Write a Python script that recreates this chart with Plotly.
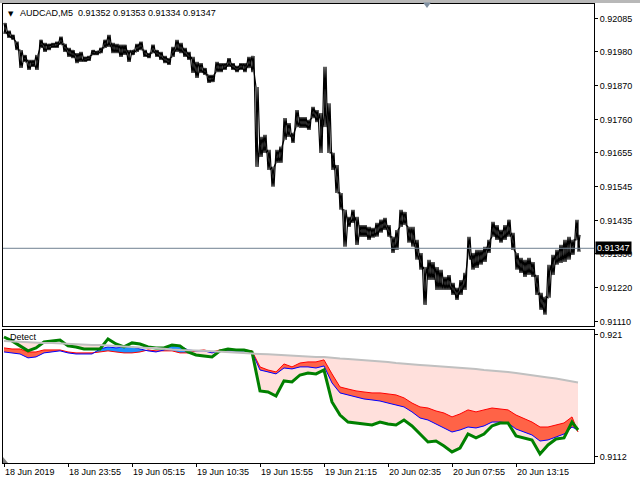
import plotly.graph_objects as go

# ---------------- main chart data (AUDCAD M5), sampled every 4 bars ----------------
price_bar = list(range(0, 573, 4)) + [574]
price_high = [
    0.92072, 0.92047, 0.92034, 0.92012, 0.91985, 0.91969, 0.91953, 0.91953, 0.91969, 0.92018,
    0.92008, 0.92005, 0.92008, 0.92012, 0.92028, 0.92005, 0.91992, 0.91985, 0.91975, 0.91979,
    0.91963, 0.91966, 0.91985, 0.91982, 0.91992, 0.92018, 0.92034, 0.92008, 0.92005, 0.92002,
    0.92002, 0.91985, 0.91985, 0.92005, 0.92012, 0.91985, 0.91975, 0.92002, 0.91985, 0.91979,
    0.91966, 0.91959, 0.91995, 0.92018, 0.92008, 0.91992, 0.91979, 0.91963, 0.91947, 0.91943,
    0.91927, 0.91905, 0.91905, 0.91947, 0.91943, 0.91943, 0.91959, 0.91943, 0.91934, 0.91943,
    0.91943, 0.91963, 0.91966, 0.91866, 0.91706, 0.91712, 0.91664, 0.91609, 0.91664, 0.91674,
    0.91766, 0.91750, 0.91718, 0.91792, 0.91769, 0.91769, 0.91760, 0.91802, 0.91792, 0.91782,
    0.91931, 0.91814, 0.91654, 0.91615, 0.91525, 0.91471, 0.91448, 0.91471, 0.91448, 0.91422,
    0.91422, 0.91416, 0.91413, 0.91429, 0.91439, 0.91445, 0.91422, 0.91384, 0.91406, 0.91471,
    0.91464, 0.91416, 0.91416, 0.91374, 0.91332, 0.91287, 0.91310, 0.91303, 0.91287, 0.91278,
    0.91255, 0.91261, 0.91236, 0.91220, 0.91245, 0.91268, 0.91384, 0.91332, 0.91342, 0.91342,
    0.91352, 0.91374, 0.91432, 0.91422, 0.91406, 0.91422, 0.91439, 0.91397, 0.91332, 0.91316,
    0.91310, 0.91316, 0.91303, 0.91261, 0.91204, 0.91191, 0.91294, 0.91326, 0.91342, 0.91358,
    0.91374, 0.91384, 0.91374, 0.91439, 0.91390,
]
price_low = [
    0.92037, 0.92024, 0.92018, 0.91985, 0.91927, 0.91947, 0.91921, 0.91931, 0.91921, 0.91992,
    0.91979, 0.91985, 0.91992, 0.91992, 0.92002, 0.91979, 0.91963, 0.91959, 0.91943, 0.91947,
    0.91947, 0.91950, 0.91969, 0.91969, 0.91975, 0.91992, 0.91995, 0.91975, 0.91975, 0.91963,
    0.91969, 0.91947, 0.91969, 0.91979, 0.91985, 0.91963, 0.91959, 0.91975, 0.91963, 0.91953,
    0.91943, 0.91937, 0.91963, 0.91979, 0.91975, 0.91963, 0.91953, 0.91911, 0.91895, 0.91911,
    0.91905, 0.91879, 0.91882, 0.91914, 0.91914, 0.91921, 0.91931, 0.91921, 0.91914, 0.91921,
    0.91914, 0.91927, 0.91914, 0.91609, 0.91641, 0.91654, 0.91599, 0.91545, 0.91622, 0.91622,
    0.91696, 0.91705, 0.91686, 0.91737, 0.91734, 0.91734, 0.91728, 0.91766, 0.91753, 0.91654,
    0.91737, 0.91654, 0.91599, 0.91525, 0.91471, 0.91352, 0.91416, 0.91429, 0.91358, 0.91384,
    0.91384, 0.91374, 0.91381, 0.91384, 0.91397, 0.91406, 0.91384, 0.91332, 0.91342, 0.91416,
    0.91422, 0.91365, 0.91352, 0.91310, 0.91278, 0.91165, 0.91245, 0.91245, 0.91213, 0.91213,
    0.91213, 0.91213, 0.91197, 0.91181, 0.91197, 0.91213, 0.91310, 0.91278, 0.91284, 0.91294,
    0.91303, 0.91332, 0.91384, 0.91374, 0.91365, 0.91374, 0.91384, 0.91342, 0.91278, 0.91268,
    0.91255, 0.91261, 0.91255, 0.91197, 0.91149, 0.91133, 0.91188, 0.91261, 0.91294, 0.91300,
    0.91303, 0.91310, 0.91326, 0.91374, 0.91336,
]
last_price = 0.91347
title_text = "AUDCAD,M5  0.91352 0.91353 0.91334 0.91347"

price_ticks = [0.92085, 0.91980, 0.91870, 0.91760, 0.91655, 0.91545, 0.91435, 0.91330, 0.91220, 0.91110]

time_tick_bar = [0, 64, 128, 192, 256, 320, 384, 448, 512]
time_tick_text = ["18 Jun 2019", "18 Jun 23:55", "19 Jun 05:15", "19 Jun 10:35", "19 Jun 15:55",
                  "19 Jun 21:15", "20 Jun 02:35", "20 Jun 07:55", "20 Jun 13:15"]

# ---------------- "Detect" indicator data, sampled every 8 bars ----------------
ind_bar = list(range(0, 569, 8)) + [574]
ind_gray = [
    0.92026, 0.92022, 0.92018, 0.92018, 0.92015, 0.92011, 0.92011, 0.92007, 0.92003, 0.92003,
    0.92000, 0.91996, 0.91996, 0.91992, 0.91989, 0.91985, 0.91981, 0.91978, 0.91974, 0.91974,
    0.91966, 0.91963, 0.91959, 0.91959, 0.91955, 0.91952, 0.91948, 0.91944, 0.91944, 0.91940,
    0.91937, 0.91933, 0.91929, 0.91926, 0.91922, 0.91922, 0.91914, 0.91914, 0.91911, 0.91907,
    0.91907, 0.91900, 0.91896, 0.91892, 0.91888, 0.91885, 0.91877, 0.91874, 0.91870, 0.91862,
    0.91859, 0.91855, 0.91848, 0.91844, 0.91840, 0.91836, 0.91833, 0.91825, 0.91822, 0.91818,
    0.91810, 0.91807, 0.91803, 0.91796, 0.91788, 0.91781, 0.91773, 0.91766, 0.91755, 0.91747,
    0.91736, 0.91725, 0.91718,
]
ind_red = [
    0.91974, 0.91966, 0.91966, 0.91944, 0.91944, 0.91959, 0.91959, 0.91959, 0.91944, 0.91937,
    0.91937, 0.91937, 0.91944, 0.91952, 0.91944, 0.91937, 0.91937, 0.91944, 0.91959, 0.91952,
    0.91952, 0.91952, 0.91937, 0.91937, 0.91952, 0.91959, 0.91944, 0.91959, 0.91959, 0.91959,
    0.91959, 0.91952, 0.91833, 0.91810, 0.91796, 0.91855, 0.91833, 0.91862, 0.91870, 0.91870,
    0.91885, 0.91781, 0.91684, 0.91669, 0.91655, 0.91647, 0.91640, 0.91640, 0.91632, 0.91625,
    0.91603, 0.91565, 0.91536, 0.91528, 0.91506, 0.91491, 0.91462, 0.91484, 0.91514, 0.91499,
    0.91514, 0.91528, 0.91521, 0.91514, 0.91476, 0.91447, 0.91424, 0.91387, 0.91387, 0.91402,
    0.91417, 0.91462, 0.91350,
]
ind_blue = [
    0.91944, 0.91937, 0.91929, 0.91900, 0.91907, 0.91937, 0.91944, 0.91952, 0.91937, 0.91929,
    0.91929, 0.91929, 0.91966, 0.91981, 0.91974, 0.91981, 0.91981, 0.91966, 0.91952, 0.91944,
    0.91959, 0.91996, 0.91989, 0.91959, 0.91952, 0.91952, 0.91937, 0.91952, 0.91952, 0.91952,
    0.91952, 0.91944, 0.91810, 0.91796, 0.91781, 0.91825, 0.91818, 0.91833, 0.91833, 0.91825,
    0.91840, 0.91714, 0.91640, 0.91625, 0.91610, 0.91595, 0.91588, 0.91580, 0.91565, 0.91551,
    0.91536, 0.91499, 0.91454, 0.91439, 0.91410, 0.91380, 0.91350, 0.91365, 0.91387, 0.91380,
    0.91395, 0.91424, 0.91424, 0.91417, 0.91372, 0.91350, 0.91328, 0.91283, 0.91291, 0.91313,
    0.91335, 0.91387, 0.91365,
]
ind_green = [
    0.92055, 0.92026, 0.91989, 0.91952, 0.91974, 0.92018, 0.92026, 0.92033, 0.91989, 0.91981,
    0.91966, 0.91966, 0.91966, 0.92041, 0.92003, 0.91981, 0.92011, 0.92003, 0.91981, 0.91974,
    0.91974, 0.91996, 0.91989, 0.91944, 0.91922, 0.91914, 0.91907, 0.91952, 0.91966, 0.91959,
    0.91959, 0.91944, 0.91655, 0.91647, 0.91617, 0.91729, 0.91721, 0.91773, 0.91788, 0.91781,
    0.91810, 0.91573, 0.91476, 0.91424, 0.91417, 0.91410, 0.91402, 0.91424, 0.91410, 0.91402,
    0.91439, 0.91395, 0.91335, 0.91276, 0.91283, 0.91246, 0.91202, 0.91231, 0.91335, 0.91306,
    0.91335, 0.91395, 0.91417, 0.91417, 0.91321, 0.91306, 0.91291, 0.91187, 0.91254, 0.91298,
    0.91306, 0.91424, 0.91365,
]
ind_label_vals = [0.92070, 0.91165]
ind_label_text = ["0.921", "0.9112"]

FONT = "Liberation Sans"
X_RANGE = [-1, 590]
MAIN_RANGE = [0.91097, 0.92133]
IND_RANGE = [0.91120, 0.92107]

fig = go.Figure()

# ---- main price: two crossing zig-zags between bar highs and lows ----
zx1, zy1, zx2, zy2 = [], [], [], []
for b, h, l in zip(price_bar, price_high, price_low):
    zx1 += [b, b + 2]
    zy1 += [h, l]
    zx2 += [b, b + 2]
    zy2 += [l, h]
for zx, zy in ((zx1, zy1), (zx2, zy2)):
    fig.add_trace(go.Scatter(x=zx, y=zy, mode="lines", line=dict(color="black", width=1.2),
                             xaxis="x", yaxis="y", hoverinfo="skip"))

# ---- indicator: pink area between gray line and green line ----
lower = [min(g, c) for g, c in zip(ind_gray, ind_green)]
fig.add_trace(go.Scatter(x=ind_bar, y=ind_gray, mode="lines", line=dict(width=0),
                         xaxis="x2", yaxis="y2", hoverinfo="skip"))
fig.add_trace(go.Scatter(x=ind_bar, y=lower, mode="lines", line=dict(width=0), fill="tonexty",
                         fillcolor="#FFE0DC", xaxis="x2", yaxis="y2", hoverinfo="skip"))

# ---- red / blue band fills ----
def band_segments(xs, a, b):
    segs = []
    sign = a[0] >= b[0]
    cx, ca, cb = [xs[0]], [a[0]], [b[0]]
    for i in range(1, len(xs)):
        s = a[i] >= b[i]
        if s != sign:
            d0 = a[i - 1] - b[i - 1]
            d1 = a[i] - b[i]
            t = d0 / (d0 - d1)
            xc = xs[i - 1] + t * (xs[i] - xs[i - 1])
            yc = a[i - 1] + t * (a[i] - a[i - 1])
            cx.append(xc); ca.append(yc); cb.append(yc)
            segs.append((cx, ca, cb, sign))
            cx, ca, cb = [xc], [yc], [yc]
            sign = s
        cx.append(xs[i]); ca.append(a[i]); cb.append(b[i])
    segs.append((cx, ca, cb, sign))
    return segs

for sx, sa, sb, sg in band_segments(ind_bar, ind_red, ind_blue):
    fig.add_trace(go.Scatter(x=sx + sx[::-1], y=sa + sb[::-1], mode="lines", line=dict(width=0),
                             fill="toself", fillcolor="#FF6347" if sg else "#1E90FF",
                             xaxis="x2", yaxis="y2", hoverinfo="skip"))

fig.add_trace(go.Scatter(x=ind_bar, y=ind_red, mode="lines", line=dict(color="#FF0000", width=1),
                         xaxis="x2", yaxis="y2", hoverinfo="skip"))
fig.add_trace(go.Scatter(x=ind_bar, y=ind_blue, mode="lines", line=dict(color="#0000FF", width=1),
                         xaxis="x2", yaxis="y2", hoverinfo="skip"))
fig.add_trace(go.Scatter(x=ind_bar, y=ind_green, mode="lines", line=dict(color="#008000", width=3),
                         xaxis="x2", yaxis="y2", hoverinfo="skip"))
fig.add_trace(go.Scatter(x=ind_bar, y=ind_gray, mode="lines", line=dict(color="#C0C0C0", width=2),
                         xaxis="x2", yaxis="y2", hoverinfo="skip"))

axis_common = dict(showgrid=False, zeroline=False, showline=True, mirror=True,
                   linecolor="black", linewidth=1, fixedrange=True)

fig.update_layout(
    width=640, height=480,
    margin=dict(l=3, r=46, t=4, b=17),
    paper_bgcolor="white", plot_bgcolor="white",
    showlegend=False,
    font=dict(family=FONT, size=9, color="black"),
    xaxis=dict(domain=[0, 1], range=X_RANGE, anchor="y", showticklabels=False, ticks="", **axis_common),
    yaxis=dict(domain=[0.2985, 1], range=MAIN_RANGE, anchor="x", side="right",
               tickvals=price_ticks, ticktext=[f"{v:.5f}" for v in price_ticks],
               ticks="outside", ticklen=3, tickcolor="black", tickfont=dict(family=FONT, size=9),
               **axis_common),
    xaxis2=dict(domain=[0, 1], range=X_RANGE, anchor="y2", showticklabels=False,
                tickvals=time_tick_bar, ticks="outside", ticklen=3, tickcolor="black", **axis_common),
    yaxis2=dict(domain=[0, 0.2898], range=IND_RANGE, anchor="x2", side="right",
                tickvals=ind_label_vals, ticktext=ind_label_text,
                ticks="outside", ticklen=3, tickcolor="black", tickfont=dict(family=FONT, size=9),
                **axis_common),
)

shapes = [
    # current price line
    dict(type="line", xref="x", yref="y", x0=X_RANGE[0], x1=X_RANGE[1], y0=last_price, y1=last_price,
         line=dict(color="#708090", width=1)),
    # top gray strip
    dict(type="rect", xref="paper", yref="paper", x0=-0.01, x1=1.1, y0=1 + 1.0 / 459, y1=1 + 4.5 / 459,
         line=dict(width=0), fillcolor="#B8B8B8"),
    # top shift marker
    dict(type="path", xref="paper", yref="paper",
         path=f"M {(423 - 3) / 591} {1 + 1.5 / 459} L {(431 - 3) / 591} {1 + 1.5 / 459} L {(427 - 3) / 591} {1 - 4.0 / 459} Z",
         line=dict(width=0), fillcolor="#7F8FA0"),
    # bottom-left marker
    dict(type="path", xref="paper", yref="paper",
         path=f"M 0 0 L {5 / 591} 0 L 0 {6 / 459} Z", line=dict(width=0), fillcolor="#808080"),
]
fig.update_layout(shapes=shapes)

annotations = [
    dict(xref="paper", yref="paper", x=0, y=1, xanchor="left", yanchor="top", xshift=3, yshift=-4,
         text="▼", showarrow=False, font=dict(family="DejaVu Sans", size=7, color="black")),
    dict(xref="paper", yref="paper", x=0, y=1, xanchor="left", yanchor="top", xshift=15, yshift=-2,
         text=title_text, showarrow=False, font=dict(family=FONT, size=9, color="black")),
    dict(xref="paper", yref="paper", x=0, y=0.2898, xanchor="left", yanchor="top", xshift=5, yshift=0,
         text="Detect", showarrow=False, font=dict(family=FONT, size=9, color="black")),
    dict(xref="paper", yref="y", x=1, y=last_price, xanchor="left", yanchor="middle", xshift=1,
         text=f"{last_price:.5f}", showarrow=False, bgcolor="black", borderpad=1,
         font=dict(family=FONT, size=9, color="white")),
]
for b, t in zip(time_tick_bar, time_tick_text):
    annotations.append(dict(xref="x2", yref="paper", x=b, y=0, xanchor="left", yanchor="top",
                            xshift=-1, yshift=-2, text=t, showarrow=False,
                            font=dict(family=FONT, size=9, color="black")))
fig.update_layout(annotations=annotations)

fig.write_html("out.html", config={"displayModeBar": False},
               post_script="document.body.style.margin='0px';")
